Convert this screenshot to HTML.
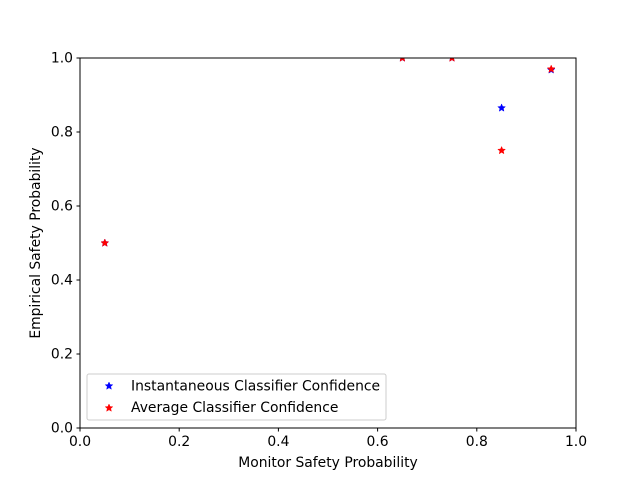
<!DOCTYPE html>
<html><head><meta charset="utf-8"><style>body{margin:0;background:#fff}text{font-family:"DejaVu Sans","Liberation Sans",sans-serif;font-size:13.9px;fill:#000}</style></head>
<body>
<svg id="chart" width="640" height="480">
<defs><clipPath id="clip"><rect x="80" y="58" width="496" height="370"/></clipPath></defs>
<g id="marks" clip-path="url(#clip)"></g>
<rect x="80" y="58" width="496" height="370" fill="none" stroke="#000" stroke-width="1"/>
<g id="axes"></g>
<text x="328" y="467" text-anchor="middle">Monitor Safety Probability</text>
<text transform="translate(40,243) rotate(-90)" text-anchor="middle">Empirical Safety Probability</text>
<g>
<rect x="87" y="374" width="299" height="46" fill="#fff" fill-opacity="0.8" stroke="#ccc" rx="2"/>
<g id="leg"></g>
<text x="131" y="390.5">Instantaneous Classifier Confidence</text>
<text x="131" y="412">Average Classifier Confidence</text>
</g>
</svg>
<script>
const xTicks=[0,0.2,0.4,0.6,0.8,1.0];
const yTicks=[0,0.2,0.4,0.6,0.8,1.0];
const instX=[0.05,0.65,0.75,0.85,0.95];
const instY=[0.5,1.0,1.0,0.865,0.968];
const avgX=[0.05,0.65,0.75,0.85,0.95];
const avgY=[0.5,1.0,1.0,0.75,0.97];
const NS='http://www.w3.org/2000/svg';
const sx=v=>80+v*496, sy=v=>428-v*370;
function star(cx,cy,r){let p=[];for(let i=0;i<10;i++){const a=-Math.PI/2+i*Math.PI/5,rr=i%2?r*0.45:r;p.push((cx+rr*Math.cos(a)).toFixed(2)+','+(cy+rr*Math.sin(a)).toFixed(2));}return p.join(' ');}
function mk(parent,cx,cy,col,name){const e=document.createElementNS(NS,'polygon');e.setAttribute('points',star(cx,cy,4));e.setAttribute('fill',col);e.setAttribute('stroke',col);e.setAttribute('stroke-width','0.5');


parent.appendChild(e);}
const m=document.getElementById('marks');
instX.forEach((v,i)=>mk(m,sx(v),sy(instY[i]),'#0000ff','instantaneous-point'));
avgX.forEach((v,i)=>mk(m,sx(v),sy(avgY[i]),'#ff0000','average-point'));
const lg=document.getElementById('leg');
mk(lg,109,386,'#0000ff','legend-marker-instantaneous');
mk(lg,109,408,'#ff0000','legend-marker-average');
const ax=document.getElementById('axes');
xTicks.forEach(t=>{const x=sx(t);const l=document.createElementNS(NS,'line');l.setAttribute('x1',x);l.setAttribute('x2',x);l.setAttribute('y1',428);l.setAttribute('y2',431.5);l.setAttribute('stroke','#000');


ax.appendChild(l);const tx=document.createElementNS(NS,'text');tx.setAttribute('x',x);tx.setAttribute('y',446);tx.setAttribute('text-anchor','middle');tx.textContent=t.toFixed(1);


ax.appendChild(tx);});
yTicks.forEach(t=>{const y=sy(t);const l=document.createElementNS(NS,'line');l.setAttribute('x1',76.5);l.setAttribute('x2',80);l.setAttribute('y1',y);l.setAttribute('y2',y);l.setAttribute('stroke','#000');


ax.appendChild(l);const tx=document.createElementNS(NS,'text');tx.setAttribute('x',73);tx.setAttribute('y',y+4.5);tx.setAttribute('text-anchor','end');tx.textContent=t.toFixed(1);


ax.appendChild(tx);});
</script>
</body></html>
